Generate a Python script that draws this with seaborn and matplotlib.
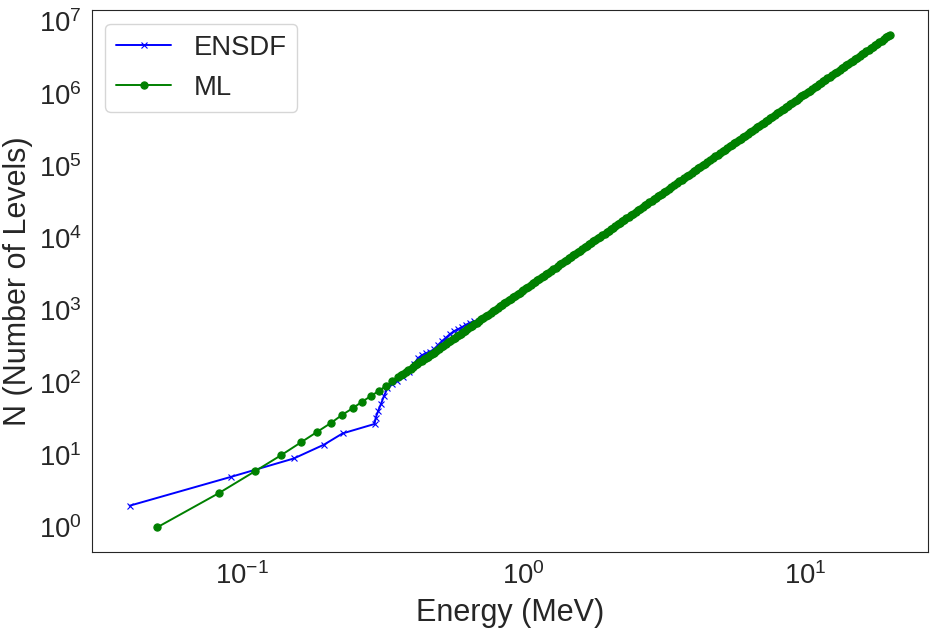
import matplotlib
matplotlib.use("Agg")
import matplotlib.pyplot as plt
import seaborn as sns

# ENSDF (cumulative level count)
ensdf_energy = [0.040, 0.0914, 0.153, 0.196, 0.228, 0.296, 0.299, 0.305, 0.312, 0.3194,
                0.3288, 0.341, 0.3553, 0.3733, 0.392, 0.4085, 0.4218, 0.4358, 0.4502, 0.4655,
                0.4809, 0.4968, 0.5133, 0.5303, 0.548, 0.5662, 0.5851, 0.6045, 0.6246, 0.6456,
                0.667]
ensdf_levels = [2, 5, 9, 14, 20, 27, 33, 41, 51, 65,
                84, 96, 105, 120, 141, 181, 219, 241, 257, 270,
                292, 332, 377, 421, 471, 518, 552, 588, 637, 678,
                711]

# ML prediction (separate dots at low energy, a dense band above ~0.35 MeV)
ml_energy = [0.05, 0.0831, 0.1115, 0.138, 0.162, 0.185, 0.2076, 0.227, 0.2485, 0.2676,
             0.288, 0.3073, 0.3256, 0.342,
             0.36, 0.3675, 0.375, 0.3825, 0.39, 0.3975, 0.405, 0.4125, 0.42, 0.4275,
             0.435, 0.4425, 0.45, 0.4575, 0.465, 0.4725, 0.48, 0.49, 0.5, 0.51,
             0.52, 0.53, 0.54, 0.55, 0.56, 0.57, 0.58, 0.59, 0.6, 0.61,
             0.62, 0.6325, 0.645, 0.6575, 0.67, 0.6825, 0.695, 0.7075, 0.72, 0.735,
             0.75, 0.765, 0.78, 0.795, 0.81, 0.825, 0.84, 0.855, 0.87, 0.885,
             0.9, 0.9175, 0.935, 0.9525, 0.97, 0.985, 1.0, 1.02, 1.04, 1.06,
             1.08, 1.1, 1.12, 1.14, 1.16, 1.18, 1.2, 1.225, 1.25, 1.275,
             1.3, 1.325, 1.35, 1.375, 1.4, 1.425, 1.45, 1.475, 1.5, 1.53,
             1.56, 1.59, 1.62, 1.65, 1.68, 1.71, 1.74, 1.77, 1.8, 1.835,
             1.87, 1.905, 1.94, 1.975, 2.01, 2.045, 2.08, 2.12, 2.16, 2.2,
             2.24, 2.28, 2.32, 2.36, 2.4, 2.45, 2.5, 2.55, 2.6, 2.65,
             2.7, 2.75, 2.8, 2.85, 2.9, 2.95, 3.0, 3.05, 3.1, 3.15,
             3.2, 3.275, 3.35, 3.425, 3.5, 3.575, 3.65, 3.725, 3.8, 3.875,
             3.95, 4.025, 4.1, 4.175, 4.25, 4.325, 4.4, 4.5, 4.6, 4.7,
             4.8, 4.9, 5.0, 5.1, 5.2, 5.3, 5.4, 5.5, 5.6, 5.7,
             5.8, 5.9, 6.0, 6.125, 6.25, 6.375, 6.5, 6.625, 6.75, 6.875,
             7.0, 7.125, 7.25, 7.375, 7.5, 7.65, 7.8, 7.95, 8.1, 8.25,
             8.4, 8.55, 8.7, 8.85, 9.0, 9.175, 9.35, 9.525, 9.7, 9.85,
             10.0, 10.2, 10.4, 10.6, 10.8, 11.0, 11.2, 11.4, 11.6, 11.8,
             12.0, 12.25, 12.5, 12.75, 13.0, 13.25, 13.5, 13.75, 14.0, 14.25,
             14.5, 14.75, 15.0, 15.3, 15.6, 15.9, 16.2, 16.5, 16.8, 17.1,
             17.4, 17.7, 18.0, 18.35, 18.7, 19.05, 19.4, 19.7, 20.0]
ml_levels = [1, 3, 6, 10, 15, 21, 28, 36, 45, 55,
             66, 78, 91, 105,
             120, 127, 134, 142, 150, 158, 166, 174, 183, 192,
             201, 211, 221, 231, 241, 252, 263, 278, 294, 310,
             327, 344, 362, 380, 399, 419, 439, 460, 481, 503,
             526, 556, 586, 617, 649, 683, 717, 753, 789, 835,
             882, 931, 981, 1034, 1087, 1143, 1199, 1259, 1319, 1383,
             1447, 1525, 1604, 1688, 1772, 1848, 1924, 2032, 2140, 2255,
             2371, 2494, 2617, 2748, 2879, 3017, 3156, 3341, 3526, 3723,
             3921, 4132, 4344, 4569, 4795, 5034, 5274, 5527, 5781, 6105,
             6430, 6777, 7124, 7494, 7865, 8256, 8648, 9064, 9480, 9997,
             10515, 11066, 11618, 12204, 12790, 13413, 14036, 14793, 15550, 16357,
             17164, 18020, 18877, 19786, 20696, 21908, 23120, 24415, 25710, 27100,
             28490, 29965, 31440, 33010, 34580, 36245, 37910, 39670, 41430, 43295,
             45160, 48145, 51130, 54365, 57600, 61065, 64530, 68255, 71980, 75970,
             79960, 84215, 88470, 92995, 97520, 102335, 107150, 114030, 120910, 128295,
             135680, 143625, 151570, 160080, 168590, 177670, 186750, 196435, 206120, 216420,
             226720, 237650, 248580, 263110, 277640, 293235, 308830, 325490, 342150, 359935,
             377720, 396560, 415400, 435350, 455300, 480850, 506400, 533750, 561100, 590250,
             619400, 650200, 681000, 713850, 746700, 787450, 828200, 871600, 915000, 954400,
             993800, 1049550, 1105300, 1164950, 1224600, 1288150, 1351700, 1419250, 1486800, 1558300,
             1629800, 1725150, 1820500, 1922550, 2024600, 2133700, 2242800, 2359300, 2475800, 2599850,
             2723900, 2854650, 2985400, 3152950, 3320500, 3499850, 3679200, 3870000, 4060800, 4263950,
             4467100, 4681750, 4896400, 5163300, 5430200, 5714800, 5999400, 6257850, 6516300]

sns.set_style("white")
plt.rcParams["font.family"] = ["Liberation Sans", "DejaVu Sans"]

fig = plt.figure(figsize=(9.35, 6.39), dpi=100)
ax = fig.add_axes([0.098, 0.136, 0.8945, 0.848])

sns.lineplot(x=ensdf_energy, y=ensdf_levels, ax=ax, color="b", marker="x",
             markersize=5, markeredgecolor="b", markeredgewidth=0.8,
             linewidth=1.4, label="ENSDF")
sns.lineplot(x=ml_energy, y=ml_levels, ax=ax, color="g", marker="o",
             markersize=5.2, markeredgecolor="g", markeredgewidth=0.8,
             linewidth=1.4, label="ML")

ax.set_xscale("log")
ax.set_yscale("log")
ax.set_xlabel("Energy (MeV)", fontsize=22, labelpad=6)
ax.set_ylabel("N (Number of Levels)", fontsize=22)
ax.tick_params(labelsize=19.8)
ax.legend(loc="upper left", fontsize=19.8)

fig.savefig("out.png", dpi=100, facecolor="white")
